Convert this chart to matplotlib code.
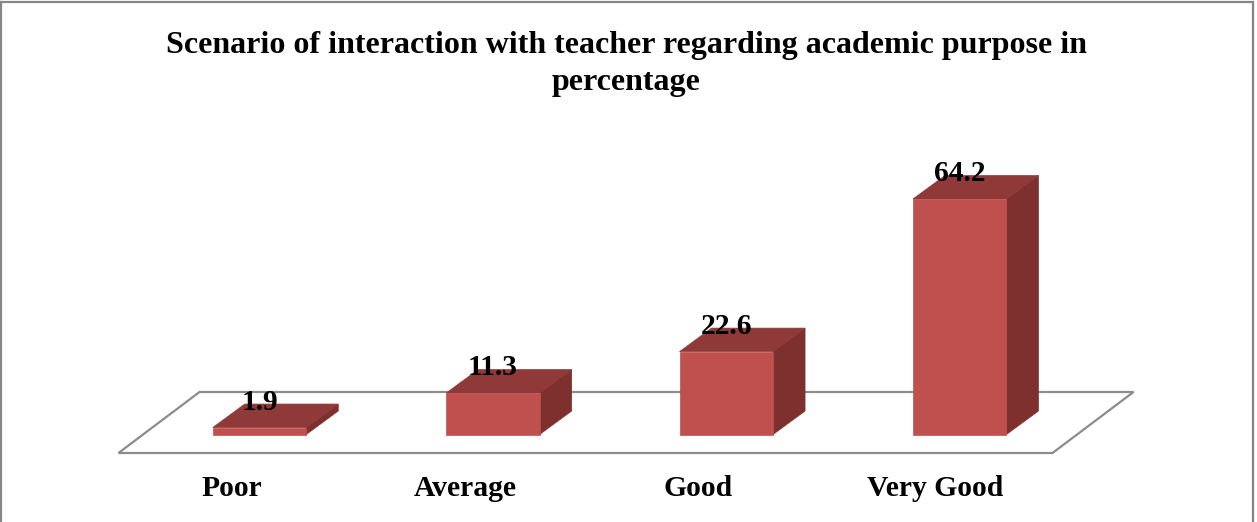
import matplotlib
matplotlib.use("Agg")
import matplotlib.pyplot as plt
from matplotlib.patches import Polygon

categories = ["Poor", "Average", "Good", "Very Good"]
values = [1.9, 11.3, 22.6, 64.2]
title = "Scenario of interaction with teacher regarding academic purpose in\npercentage"

W, H = 1257, 522
FRONT, TOP, SIDE = "#C0504D", "#8F3A38", "#7D302E"
GREY = "#8C8C8C"
label_shift_px = [-28, -28, -28, -25]

plt.rcParams["font.family"] = ["Liberation Serif", "DejaVu Serif"]
fig = plt.figure(figsize=(W / 100, H / 100), dpi=100, facecolor="white")
ax = fig.add_axes([0, 0, 1, 1])

# axis scale: 233.4 px per category, 3.668 px per percent
px_x, px_y = 233.4, 3.668
ax.set_xlim(-259.5 / px_x, (W - 259.5) / px_x)
ax.set_ylim(-(H - 434.5) / px_y, 434.5 / px_y)
ax.axis("off")

bar_w = 93.5 / px_x
dx, dy = 32 / px_x, 23.5 / px_y

# floor
fl, fr = -141 / px_x, 793 / px_x
fy = -18.5 / px_y
fdx, fdy = 81 / px_x, 61 / px_y
ax.add_patch(Polygon([(fl, fy), (fr, fy), (fr + fdx, fy + fdy), (fl + fdx, fy + fdy)],
                     closed=True, fill=False, ec=GREY, lw=1.6, zorder=1, joinstyle="miter"))

for i, (c, v) in enumerate(zip(categories, values)):
    l, r = i - bar_w / 2, i + bar_w / 2
    ax.add_patch(Polygon([(r, 0), (r + dx, dy), (r + dx, v + dy), (r, v)], fc=SIDE, ec=SIDE, lw=0.5, zorder=2))
    ax.add_patch(Polygon([(l, v), (r, v), (r + dx, v + dy), (l + dx, v + dy)], fc=TOP, ec=TOP, lw=0.5, zorder=2))
    ax.add_patch(Polygon([(l, 0), (r, 0), (r, v), (l, v)], fc=FRONT, ec=FRONT, lw=0.5, zorder=3))
    ax.text(i, v + 18 / px_y, f"{v}", ha="center", va="baseline", fontsize=21.3,
            fontweight="bold", color="black", zorder=5)
    ax.text(i + label_shift_px[i] / px_x, -61.5 / px_y, c, ha="center", va="baseline", fontsize=21.3,
            fontweight="bold", color="black", zorder=5)

fig.text(626.5 / W, 1 - 53 / H, title.split("\n")[0], ha="center", va="baseline",
         fontsize=23, fontweight="bold", color="black")
fig.text(626.5 / W, 1 - 90 / H, title.split("\n")[1], ha="center", va="baseline",
         fontsize=23, fontweight="bold", color="black")

# outer frame (open at the bottom)
for xs, ys in [((1, 1), (0, H - 1.5)), ((1, 1253), (H - 1.5, H - 1.5)), ((1253, 1253), (H - 1.5, 0))]:
    fig.add_artist(plt.Line2D([x / W for x in xs], [y / H for y in ys], color="#868686", lw=1.6))

fig.savefig("out.png", dpi=100, facecolor="white")
